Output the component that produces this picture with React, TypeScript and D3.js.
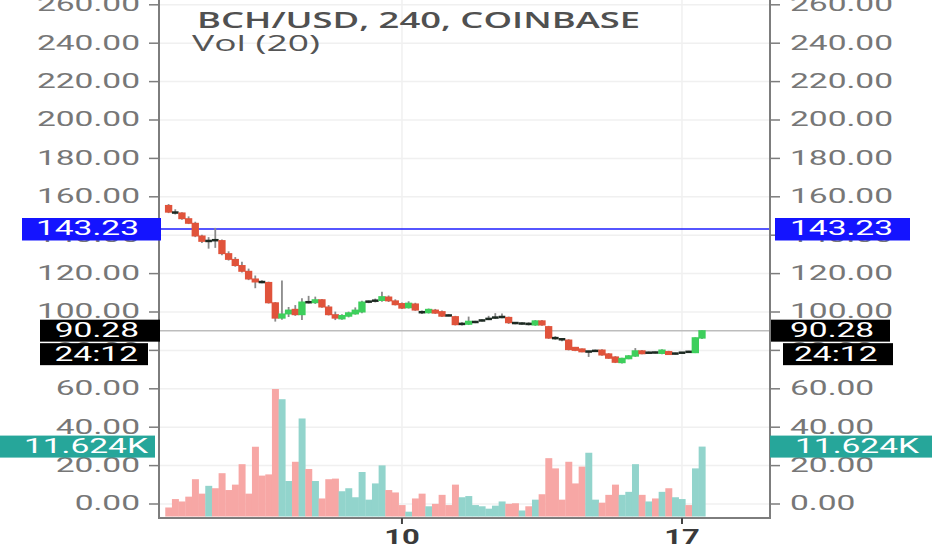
import * as d3 from "d3";

// 4h candles, BCH/USD (Coinbase)
const opens = [
  155.5, 152.0, 151.6, 148.6, 146.2, 139.6, 136.8, 137.6, 137.2, 130.4,
  127.4, 124.2, 121.2, 117.2, 115.8, 115.4, 104.8, 96.8, 99.0, 101.4,
  98.6, 105.2, 105.0, 106.4, 102.6, 98.6, 96.4, 97.8, 99.0, 100.0,
  105.2, 105.6, 106.0, 107.8, 105.8, 104.4, 102.2, 104.2, 100.2, 99.6,
  101.0, 100.2, 98.4, 97.6, 93.6, 93.6, 94.6, 95.4, 96.2, 96.8,
  97.2, 97.2, 94.4, 93.8, 94.2, 93.2, 95.4, 92.4, 86.6, 86.0,
  85.4, 81.6, 80.8, 79.2, 79.6, 80.2, 78.2, 76.6, 73.6, 75.9,
  77.0, 79.8, 78.6, 79.0, 78.4, 79.4, 78.2, 78.6, 79.4, 78.8,
  86.4,
];
const highs = [
  156.2, 153.5, 152.0, 149.8, 147.0, 140.2, 139.0, 143.8, 137.8, 131.6,
  128.6, 126.2, 122.6, 119.0, 116.6, 115.8, 105.2, 116.4, 102.6, 103.6,
  107.2, 108.4, 108.0, 106.8, 103.6, 100.2, 98.8, 100.2, 102.4, 105.8,
  106.0, 107.0, 110.6, 108.6, 106.6, 105.0, 105.6, 104.8, 100.8, 101.8,
  101.6, 100.8, 98.8, 98.0, 94.6, 97.6, 95.4, 96.2, 98.0, 99.4,
  99.2, 97.6, 94.8, 94.6, 94.6, 95.8, 95.8, 92.8, 87.4, 86.4,
  85.8, 81.8, 81.0, 79.8, 80.4, 80.6, 78.6, 77.0, 76.2, 77.6,
  81.2, 80.2, 79.4, 79.4, 80.6, 79.8, 78.8, 79.2, 79.8, 86.8,
  90.6,
];
const lows = [
  151.5, 150.8, 148.0, 145.8, 139.0, 136.0, 133.0, 133.4, 129.6, 126.8,
  123.6, 120.6, 116.6, 112.4, 115.0, 104.4, 95.0, 96.0, 97.4, 98.0,
  95.8, 104.4, 104.2, 102.2, 98.2, 95.8, 96.0, 97.2, 98.6, 99.4,
  104.6, 105.0, 105.4, 105.2, 103.4, 101.6, 101.8, 100.6, 99.0, 99.2,
  99.0, 97.4, 97.8, 93.0, 93.0, 93.2, 94.2, 95.0, 95.8, 96.4,
  96.8, 93.8, 93.6, 93.4, 93.0, 92.8, 92.8, 86.0, 85.6, 84.8,
  80.0, 79.6, 79.0, 76.6, 79.2, 77.2, 75.6, 73.4, 73.2, 75.4,
  76.6, 78.0, 78.2, 78.4, 78.0, 77.8, 77.8, 78.2, 78.8, 78.6,
  86.0,
];
const closes = [
  152.0, 151.6, 148.6, 146.2, 139.6, 136.8, 137.2, 137.2, 130.4, 127.4,
  124.2, 121.2, 117.2, 115.8, 115.4, 104.8, 96.8, 99.0, 101.0, 98.6,
  105.2, 105.0, 106.4, 102.6, 98.6, 96.8, 98.2, 99.6, 101.0, 105.2,
  105.6, 106.2, 108.0, 105.8, 103.8, 102.0, 104.6, 101.0, 99.6, 101.4,
  99.4, 97.8, 98.0, 93.4, 94.0, 95.2, 95.0, 95.8, 96.6, 97.4,
  97.6, 94.4, 94.1, 94.2, 93.4, 95.4, 93.2, 86.4, 86.2, 85.6,
  80.4, 80.0, 79.4, 79.6, 79.9, 77.6, 75.9, 73.8, 75.9, 77.2,
  79.8, 78.4, 79.0, 78.8, 80.2, 78.2, 78.5, 79.0, 79.1, 86.6,
  90.28,
];
// volume in thousands
const volumes = [
  1.5, 2.9, 2.5, 3.3, 6.2, 3.8, 5.1, 4.7, 7.2, 4.4,
  5.3, 8.7, 3.8, 11.6, 6.8, 7.0, 21.2, 19.5, 5.9, 9.1,
  16.3, 7.9, 5.9, 3.0, 6.2, 6.3, 4.2, 4.7, 3.2, 7.4,
  2.8, 5.5, 8.5, 4.4, 4.0, 1.9, 0.8, 3.0, 3.8, 1.7,
  2.1, 3.6, 1.9, 5.3, 3.2, 3.4, 1.9, 1.7, 1.3, 1.8,
  2.5, 2.1, 2.2, 1.0, 1.7, 2.8, 3.7, 9.7, 8.0, 2.8,
  9.1, 5.5, 8.3, 10.6, 2.8, 2.3, 3.6, 5.3, 3.6, 4.1,
  8.7, 3.6, 2.5, 3.0, 4.1, 4.7, 3.2, 2.9, 1.9, 8.0,
  11.624,
];
const priceTicks = [0, 20, 40, 60, 80, 100, 120, 140, 160, 180, 200, 220, 240, 260];
const dateTickLabels = ["10", "17"];
const dateTickIndex = [35, 77];
const alertPrice = 143.23;
const countdown = "24:12";
const lastVolumeLabel = "11.624K";

const W = 932;
const H = 550;
const left = 159;
const right = 770;
const bottom = 518;

const UP = "#3dcf5c";
const DOWN = "#e0533b";
const VOL_UP = "#92d4cc";
const VOL_DOWN = "#f7a7a5";
const AXIS = "#7d7d7d";
const LABEL = "#777";

const SX = 1.72;

function Label({ x, y, text, anchor = "start", fill = LABEL, size = 19.5, weight = 400, sx = SX }: any) {
  return (
    <text
      transform={`translate(${x},${y}) scale(${sx},1)`}
      textAnchor={anchor}
      dominantBaseline="central"
      fontSize={size}
      fontWeight={weight}
      fill={fill}
      fontFamily="Roboto, sans-serif"
    >
      {text}
    </text>
  );
}

export default function App() {
  const x = d3.scaleLinear().domain([-1.44, 90.2]).range([left, right]);
  const y = d3.scaleLinear().domain([0, 260]).range([504, 4.8]);
  const v = d3.scaleLinear().domain([0, d3.max(volumes)!]).range([516.5, 389]);
  const step = x(1) - x(0);
  const bodyW = step * 1.1;
  const last = closes[closes.length - 1];
  const yLast = y(last);
  const yAlert = y(alertPrice);
  const yVol = v(volumes[volumes.length - 1]);

  return (
    <svg
      width={W}
      height={H}
      style={{ position: "absolute", left: 0, top: 0, background: "#fff" }}
    >
      {/* grid */}
      {priceTicks.map((t) => (
        <line key={"g" + t} x1={left} x2={right} y1={y(t)} y2={y(t)} stroke="#f0f0f0" strokeWidth={1.5} />
      ))}
      {dateTickIndex.map((d) => (
        <line key={"vg" + d} x1={x(d)} x2={x(d)} y1={0} y2={bottom} stroke="#f0f0f0" strokeWidth={1.5} />
      ))}

      {/* volume */}
      {volumes.map((vol, i) => (
        <rect
          key={"v" + i}
          x={x(i) - step / 2}
          width={step + 0.3}
          y={v(vol)}
          height={v(0) - v(vol)}
          fill={closes[i] >= opens[i] ? VOL_UP : VOL_DOWN}
        />
      ))}

      {/* last price & alert lines */}
      <line x1={left} x2={right} y1={yLast} y2={yLast} stroke="#bdbdbd" strokeWidth={1.5} />
      <line x1={left} x2={right} y1={yAlert} y2={yAlert} stroke="#1e1eff" strokeWidth={1.5} />

      {/* candles */}
      {closes.map((c, i) => {
        const o = opens[i];
        const top = y(Math.max(o, c));
        const h = Math.abs(y(o) - y(c));
        const doji = h < 1.6;
        return (
          <g key={"c" + i}>
            <line x1={x(i)} x2={x(i)} y1={y(highs[i])} y2={y(lows[i])} stroke="#8a8a8a" strokeWidth={1.8} />
            {doji ? (
              <rect x={x(i) - step / 2} width={step} y={(y(o) + y(c)) / 2 - 1.25} height={2.5} fill="#1d2a22" />
            ) : (
              <rect x={x(i) - bodyW / 2} width={bodyW} y={top - 0.5} height={Math.max(h, 3) + 1} fill={c >= o ? UP : DOWN} />
            )}
          </g>
        );
      })}

      {/* axes */}
      <line x1={left} x2={left} y1={0} y2={bottom + 1} stroke={AXIS} strokeWidth={2} />
      <line x1={right} x2={right} y1={0} y2={bottom + 1} stroke={AXIS} strokeWidth={2} />
      <line x1={left} x2={right + 1} y1={bottom} y2={bottom} stroke={AXIS} strokeWidth={2} />
      {priceTicks.map((t) => (
        <g key={"t" + t}>
          <line x1={149} x2={left} y1={y(t)} y2={y(t)} stroke={AXIS} strokeWidth={1.5} />
          <line x1={right} x2={780} y1={y(t)} y2={y(t)} stroke={AXIS} strokeWidth={1.5} />
          <Label x={140} y={y(t)} text={t.toFixed(2)} anchor="end" />
          <Label x={790} y={y(t)} text={t.toFixed(2)} />
        </g>
      ))}
      {dateTickIndex.map((d, k) => (
        <g key={"d" + d}>
          <line x1={x(d)} x2={x(d)} y1={bottom} y2={bottom + 6} stroke="#444" strokeWidth={2} />
          <Label x={x(d)} y={537} text={dateTickLabels[k]} anchor="middle" fill="#3a3a3a" weight={700} size={20} sx={1.55} />
        </g>
      ))}

      {/* title */}
      <text x={197} y={28} fontSize={21} fontWeight={600} fill="#505050" fontFamily="'Open Sans', sans-serif" textLength={443} lengthAdjust="spacingAndGlyphs">
        BCH/USD, 240, COINBASE
      </text>
      <text x={192} y={51} fontSize={21} fill="#555" fontFamily="'Open Sans', sans-serif" textLength={128} lengthAdjust="spacingAndGlyphs">
        Vol (20)
      </text>

      {/* alert price boxes */}
      <rect x={22} y={yAlert - 11} width={139} height={22.5} fill="#1414ff" />
      <Label x={139} y={yAlert} text={alertPrice.toFixed(2)} anchor="end" fill="#fff" />
      <rect x={775} y={yAlert - 11} width={135} height={22.5} fill="#1414ff" />
      <Label x={790} y={yAlert} text={alertPrice.toFixed(2)} fill="#fff" />

      {/* last price + countdown */}
      <rect x={40} y={yLast - 11} width={120} height={22} fill="#000" />
      <Label x={139} y={yLast} text={last.toFixed(2)} anchor="end" fill="#fff" />
      <rect x={40} y={yLast + 12.5} width={108} height={22} fill="#000" />
      <Label x={138} y={yLast + 23.5} text={countdown} anchor="end" fill="#fff" />
      <rect x={771} y={yLast - 11} width={119} height={22} fill="#000" />
      <Label x={790} y={yLast} text={last.toFixed(2)} fill="#fff" />
      <rect x={783} y={yLast + 12.5} width={110} height={22} fill="#000" />
      <Label x={794} y={yLast + 23.5} text={countdown} fill="#fff" />

      {/* last volume */}
      <rect x={0} y={yVol - 11} width={155} height={22} fill="#26a69a" />
      <Label x={148} y={yVol} text={lastVolumeLabel} anchor="end" fill="#fff" />
      <rect x={770} y={yVol - 11} width={162} height={22} fill="#26a69a" />
      <Label x={795} y={yVol} text={lastVolumeLabel} fill="#fff" />
    </svg>
  );
}
